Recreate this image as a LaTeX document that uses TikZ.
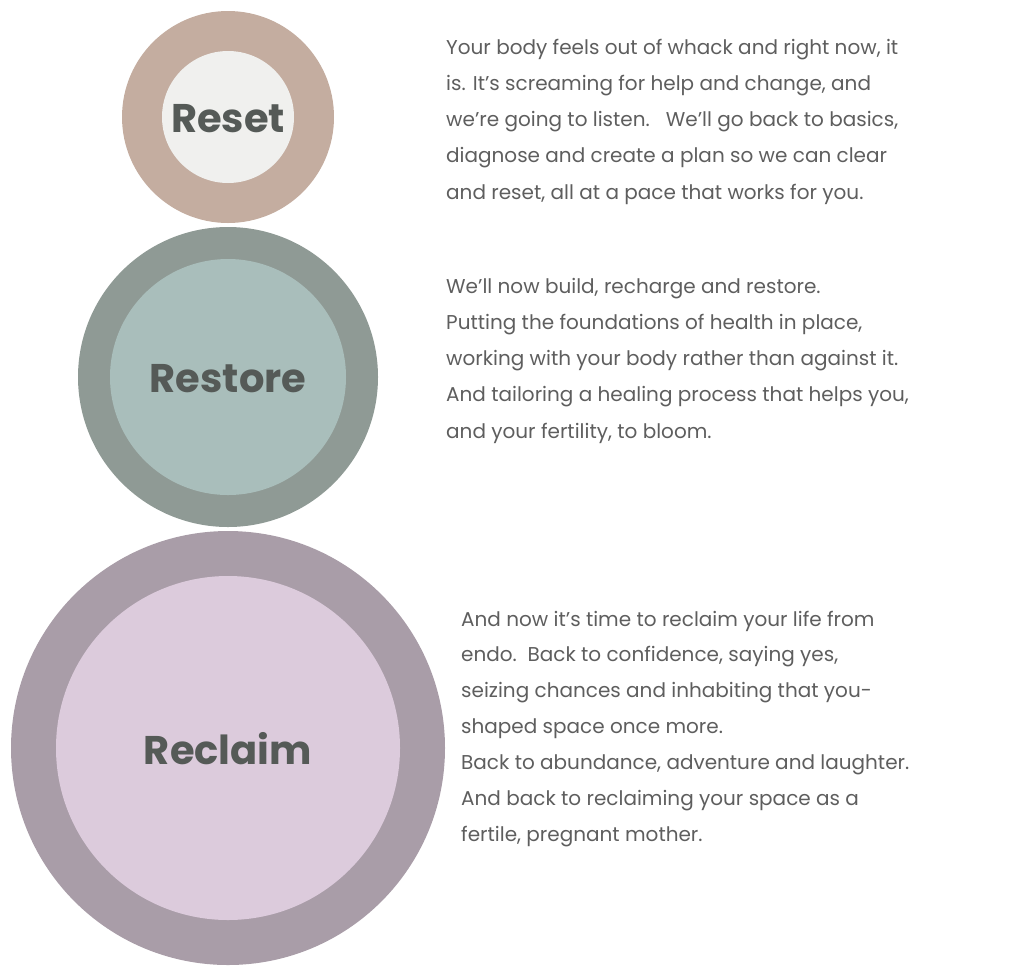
\documentclass[tikz,border=0pt]{standalone}
\usepackage{fontspec}
\setmainfont{Poppins}
\definecolor{txt}{HTML}{5E5E5E}
\definecolor{lab}{HTML}{555A57}
\definecolor{o1}{HTML}{C4ADA0}\definecolor{i1}{HTML}{F0F0EE}
\definecolor{o2}{HTML}{8F9A95}\definecolor{i2}{HTML}{A9BEBB}
\definecolor{o3}{HTML}{A99DA8}\definecolor{i3}{HTML}{DCCBDC}
\begin{document}
\begin{tikzpicture}[x=1pt,y=-1pt,
 ln/.style={anchor=west,inner sep=0pt,text=txt,font=\fontsize{20}{24}\selectfont},
 lbl/.style={text=lab,font=\fontsize{40}{44}\selectfont\bfseries}]
\useasboundingbox (0,0) rectangle (1024,975);
\fill[o1] (228,117) circle (106); \fill[i1] (228,117) circle (66);
\fill[o2] (228,377) circle (150); \fill[i2] (228,377) circle (118);
\fill[o3] (228,748) circle (217); \fill[i3] (228,748) circle (172);
\node[lbl] (reset) at (228,119) {Reset};
\node[lbl] (restore) at (228,379) {Restore};
\node[lbl] (reclaim) at (228,749) {Reclaim};
\foreach \t [count=\i] in {{Your body feels out of whack and right now, it},{is. It’s screaming for help and change, and},{we’re going to listen.\ \ \ We’ll go back to basics,},{diagnose and create a plan so we can clear},{and reset, all at a pace that works for you.}}
 \node[ln] (a\i) at (446,50+36*\i-36) {\t};
\foreach \t [count=\i] in {{We’ll now build, recharge and restore.},{Putting the foundations of health in place,},{working with your body rather than against it.},{And tailoring a healing process that helps you,},{and your fertility, to bloom.}}
 \node[ln] (b\i) at (446,289+36*\i-36) {\t};
\foreach \t [count=\i] in {{And now it’s time to reclaim your life from},{endo.\ \ Back to confidence, saying yes,},{seizing chances and inhabiting that you-},{shaped space once more.},{Back to abundance, adventure and laughter.},{And back to reclaiming your space as a},{fertile, pregnant mother.}}
 \node[ln] (c\i) at (461,621+36*\i-36) {\t};
\end{tikzpicture}
\end{document}
